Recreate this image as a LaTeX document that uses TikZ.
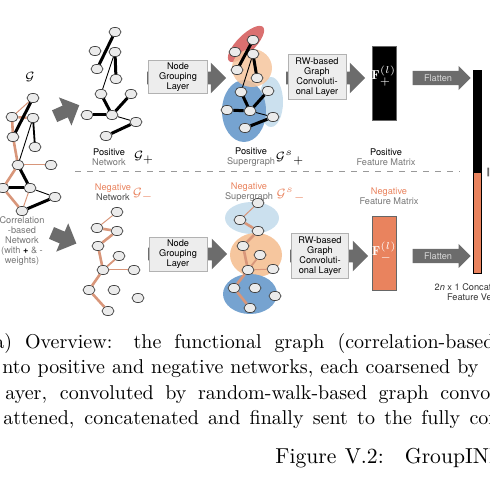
\documentclass[tikz,border=0pt]{standalone}
\usepackage{amsmath,amssymb}
\usepackage{fontspec}
\setsansfont{TeX Gyre Heros}
\usepackage{xcolor}
\usepackage{tikz}
\usetikzlibrary{positioning,arrows.meta,shapes.arrows,shapes.geometric}

\definecolor{negorange}{RGB}{233,131,94}
\definecolor{edgeorange}{RGB}{216,150,122}
\definecolor{arrowgray}{RGB}{108,108,108}
\definecolor{boxfill}{RGB}{237,237,237}
\definecolor{txtgray}{RGB}{118,118,118}
\definecolor{blobred}{RGB}{214,96,96}
\definecolor{blobpeach}{RGB}{246,198,158}
\definecolor{blobblue}{RGB}{118,163,208}
\definecolor{blobsky}{RGB}{203,224,238}

\newcommand{\lblfont}{\sffamily\fontsize{4.6}{5.1}\selectfont}
\newcommand{\capfont}{\fontsize{10}{12.6}\selectfont}

\begin{document}
\begin{tikzpicture}[x=0.5pt, y=-0.5pt,
  vtx/.style={draw=black!75, fill=black!8, ellipse, minimum width=6pt, minimum height=4.6pt, inner sep=0pt, line width=0.35pt},
  posedge/.style={line width=1.5pt},
  posthin/.style={line width=0.45pt},
  negedge/.style={draw=edgeorange, line width=1.3pt},
  negthin/.style={draw=edgeorange, line width=0.5pt},
  layer/.style={draw=black!30, fill=boxfill, font=\lblfont, align=center, inner sep=0pt},
  blk/.style={single arrow, fill=arrowgray, inner xsep=0pt, inner ysep=3pt, single arrow head extend=4.5pt},
  flat/.style={single arrow, fill=arrowgray, text=black!15, font=\lblfont, inner xsep=1pt, inner ysep=1.6pt, single arrow head extend=2.5pt, minimum height=29pt},
  fmat/.style={draw=black!60, line width=0.3pt, inner sep=0pt, minimum width=12pt},
  lbl/.style={font=\lblfont, align=center, inner sep=0pt},
  gname/.style={font=\fontsize{6.5}{7}\selectfont, inner sep=0pt},
  captext/.style={font=\capfont, inner sep=0pt, anchor=base west}]
\useasboundingbox (0,0) rectangle (489,490);
\clip (0,0) rectangle (489,490);

% correlation-based network
\node[gname] (g) at (30,77) {$\mathcal{G}$};
\node[vtx] (g1) at (33,98) {}; \node[vtx] (g2) at (12,117) {}; \node[vtx] (g3) at (33,118) {};
\node[vtx] (g4) at (13,137) {}; \node[vtx] (g5) at (35,147) {}; \node[vtx] (g6) at (18,165) {};
\node[vtx] (g7) at (51,165) {}; \node[vtx] (g8) at (3,188) {}; \node[vtx] (g9) at (30,188) {};
\node[vtx] (g10) at (55,197) {}; \node[vtx] (g11) at (22,211) {};
\draw[negthin] (g1) -- (g2); \draw[negedge] (g2) -- (g3); \draw[negedge] (g2) -- (g4);
\draw[negedge] (g4) -- (g6); \draw[negthin] (g6) -- (g7); \draw[negedge] (g6) -- (g8);
\draw[negedge] (g8) -- (g11); \draw[negthin] (g9) -- (g11);
\draw[posedge] (g1) -- (g4); \draw[line width=0.9pt] (g3) -- (g5); \draw[posthin] (g3) -- (g6);
\draw[posedge] (g6) -- (g9); \draw[posedge] (g8) -- (g9); \draw[posthin] (g9) -- (g10);
\draw[posedge] (g11) -- (g10);
\node[lbl, text=txtgray] (glbl) at (22,241) {Correlation\\-based\\Network\\(with \textcolor{black}{\textbf{+}} \& -\\weights)};

\node[blk, minimum height=13.5pt, rotate=24] (split1) at (64,112) {};
\node[blk, minimum height=13.5pt, rotate=-23] (split2) at (61,237) {};

% positive network
\node[vtx] (p1) at (115,32) {}; \node[vtx] (p2) at (95,51) {}; \node[vtx] (p3) at (115,52) {};
\node[vtx] (p4) at (97,69) {}; \node[vtx] (p5) at (116,79) {}; \node[vtx] (p6) at (101,94) {};
\node[vtx] (p7) at (131,94) {}; \node[vtx] (p8) at (87,115) {}; \node[vtx] (p9) at (112,115) {};
\node[vtx] (p10) at (136,122) {}; \node[vtx] (p11) at (106,136) {};
\draw[posedge] (p1) -- (p4); \draw[posedge] (p3) -- (p5); \draw[posthin] (p3) -- (p6);
\draw[posedge] (p6) -- (p9); \draw[posedge] (p8) -- (p9); \draw[posedge] (p9) -- (p7);
\draw[posthin] (p9) -- (p10); \draw[posedge] (p10) -- (p11);
\node[lbl] (posnet) at (109,157) {Positive\\\textcolor{txtgray}{Network}};
\node[gname] (gpos) at (144,158) {$\mathcal{G}_{+}$};

\node[blk, minimum height=39.5pt] (ngarr1) at (183.5,78) {};
\node[layer, minimum width=29.5pt, minimum height=16.5pt] (ng1) at (178,77) {Node\\Grouping\\Layer};

% positive supergraph
\fill[blobsky] (271,102) ellipse [x radius=12, y radius=25];
\fill[blobblue] (244,111) ellipse [x radius=22, y radius=31];
\fill[blobred, opacity=0.9, rotate around={45:(246,44)}] (246,44) ellipse [x radius=24, y radius=9];
\fill[blobpeach, opacity=0.85] (252,68) ellipse [x radius=20, y radius=19];
\node[vtx] (s1) at (253,40) {}; \node[vtx] (s2) at (235,52) {}; \node[vtx] (s3) at (253,54) {};
\node[vtx] (s4) at (237,70) {}; \node[vtx] (s5) at (257,78) {}; \node[vtx] (s6) at (241,92) {};
\node[vtx] (s7) at (268,91) {}; \node[vtx] (s8) at (227,110) {}; \node[vtx] (s9) at (250,111) {};
\node[vtx] (s10) at (273,117) {}; \node[vtx] (s11) at (245,128) {};
\draw[posedge] (s1) -- (s4); \draw[posedge] (s3) -- (s5); \draw[posthin] (s3) -- (s6);
\draw[posedge] (s6) -- (s9); \draw[posedge] (s8) -- (s9); \draw[posedge] (s9) -- (s7);
\draw[posthin] (s9) -- (s10); \draw[posedge] (s10) -- (s11);
\node[lbl] (possup) at (251,157) {Positive\\\textcolor{txtgray}{Supergraph}};
\node[gname] (gspos) at (290,158) {$\mathcal{G}^{s}{}_{+}$};

\node[blk, minimum height=39.5pt] (rwarr1) at (322.5,78) {};
\node[layer, minimum width=29pt, minimum height=22.5pt] (rw1) at (317,77) {RW-based\\Graph\\Convoluti-\\onal Layer};

\node[fmat, fill=black, minimum height=37pt] (fpos) at (384,83) {};
\node[gname, text=white] (fposlbl) at (384,76) {$\mathbf{F}^{(l)}_{+}$};
\node[lbl] (posfm) at (386,157) {Positive\\\textcolor{txtgray}{Feature Matrix}};
\node[flat] (flat1) at (438,78) {Flatten};

% concatenated vector
\node[fmat, draw=black, fill=black, minimum width=4pt, minimum height=51pt] (vpos) at (477,121) {};
\node[fmat, draw=black, fill=negorange, minimum width=4pt, minimum height=50.5pt, below=0pt of vpos] (vneg) {};
\node[blk, inner ysep=2pt, anchor=west, minimum height=20pt] (fcarr) at (487,172) {};
\node[lbl, text=black!80] (vlbl) at (477,292) {2\textit{n} x 1 Concatenated\\Feature Vector};

\draw[black!40, dashed, line width=0.5pt] (75,172) -- (460,172);

% negative network
\node[vtx] (q1) at (117,212) {}; \node[vtx] (q2) at (97,228) {}; \node[vtx] (q3) at (117,231) {};
\node[vtx] (q4) at (98,246) {}; \node[vtx] (q5) at (119,256) {}; \node[vtx] (q6) at (103,270) {};
\node[vtx] (q7) at (134,270) {}; \node[vtx] (q8) at (89,290) {}; \node[vtx] (q9) at (114,290) {};
\node[vtx] (q10) at (138,298) {}; \node[vtx] (q11) at (108,311) {};
\draw[negthin] (q1) -- (q2); \draw[negedge] (q2) -- (q3); \draw[negedge] (q3) -- (q4);
\draw[negedge] (q4) -- (q6); \draw[line width=0.9pt, edgeorange] (q6) -- (q5); \draw[negthin] (q6) -- (q7);
\draw[negedge] (q6) -- (q8); \draw[negedge] (q8) -- (q11);
\node[lbl] (negnet) at (113,192) {\textcolor{negorange}{Negative}\\\textcolor{black!70}{Network}};
\node[gname, text=negorange] (gneg) at (143,195) {$\mathcal{G}_{-}$};

\node[blk, minimum height=39.5pt] (ngarr2) at (184.5,254) {};
\node[layer, minimum width=29pt, minimum height=17pt] (ng2) at (178,254) {Node\\Grouping\\Layer};

% negative supergraph
\fill[blobsky] (252,218) ellipse [x radius=27, y radius=16];
\fill[blobpeach] (256,255) ellipse [x radius=26, y radius=22];
\fill[blobblue] (250,294) ellipse [x radius=27, y radius=20];
\node[vtx] (r1) at (258,203) {}; \node[vtx] (r2) at (240,220) {}; \node[vtx] (r3) at (258,231) {};
\node[vtx] (r4) at (243,246) {}; \node[vtx] (r5) at (260,255) {}; \node[vtx] (r6) at (248,270) {};
\node[vtx] (r7) at (273,269) {}; \node[vtx] (r8) at (234,288) {}; \node[vtx] (r9) at (255,288) {};
\node[vtx] (r10) at (275,296) {}; \node[vtx] (r11) at (250,308) {};
\draw[negthin] (r1) -- (r2); \draw[negedge] (r2) -- (r3); \draw[negedge] (r3) -- (r4);
\draw[negedge] (r4) -- (r6); \draw[line width=0.9pt, edgeorange] (r6) -- (r5); \draw[negthin] (r6) -- (r7);
\draw[negedge] (r6) -- (r8); \draw[negedge] (r8) -- (r11);
\node[lbl] (negsup) at (249,192) {\textcolor{negorange}{Negative}\\\textcolor{txtgray}{Supergraph}};
\node[gname, text=negorange] (gsneg) at (291,195) {$\mathcal{G}^{s}{}_{-}$};

\node[blk, minimum height=39pt] (rwarr2) at (326,256) {};
\node[layer, minimum width=28.5pt, minimum height=22.5pt] (rw2) at (320,256) {RW-based\\Graph\\Convoluti-\\onal Layer};

\node[fmat, fill=negorange, minimum height=37pt] (fneg) at (384.5,253) {};
\node[gname, text=white] (fneglbl) at (384.5,252) {$\mathbf{F}^{(l)}_{-}$};
\node[lbl] (negfm) at (389,196) {\textcolor{negorange}{Negative}\\\textcolor{txtgray}{Feature Matrix}};
\node[flat] (flat2) at (438,256) {Flatten};

% caption
\node[captext] (cap1) at (-6,348) {\makebox[250pt][s]{a) Overview: the functional graph (correlation-based}};
\node[captext] (cap2) at (2,373) {\makebox[238pt][s]{nto positive and negative networks, each coarsened by}};
\node[captext] (cap3) at (5,399) {\makebox[237.5pt][s]{ayer, convoluted by random-walk-based graph conv}olution};
\node[captext] (cap4) at (3,424) {\makebox[237.5pt][s]{attened, concatenated and finally sent to the fully c}onnected};
\node[captext, font=\fontsize{10.8}{13}\selectfont] (fig) at (275,463) {Figure\hspace{4.2pt}V.2:\hspace{10.5pt}GroupINN};
\end{tikzpicture}
\end{document}
